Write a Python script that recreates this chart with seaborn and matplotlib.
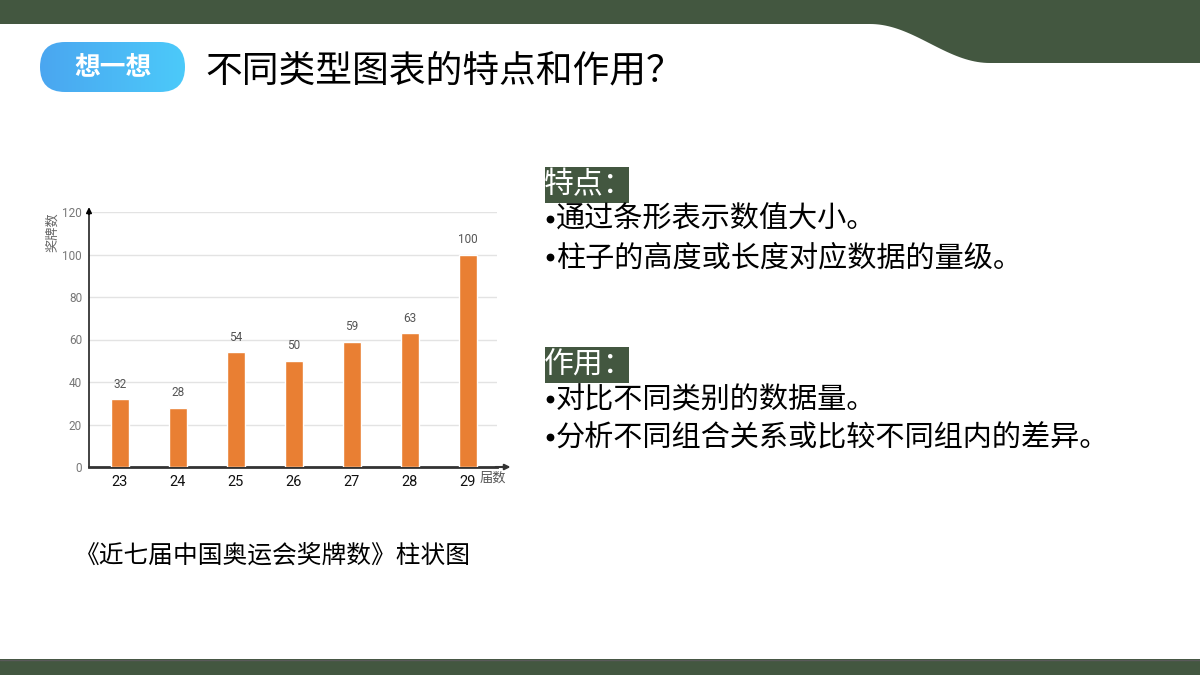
import numpy as np
import matplotlib
matplotlib.use("Agg")
import matplotlib.pyplot as plt
import seaborn as sns
from matplotlib.patches import Polygon, Rectangle, FancyBboxPatch
from matplotlib.colors import LinearSegmentedColormap

sessions = ["23", "24", "25", "26", "27", "28", "29"]
medals = [32, 28, 54, 50, 59, 63, 100]
yticks = [0, 20, 40, 60, 80, 100, 120]
title = "不同类型图表的特点和作用？"
badge = "想一想"
caption = "《近七届中国奥运会奖牌数》柱状图"
head1 = "特点："
lines1 = ["通过条形表示数值大小。", "柱子的高度或长度对应数据的量级。"]
head2 = "作用："
lines2 = ["对比不同类别的数据量。", "分析不同组合关系或比较不同组内的差异。"]

sns.set_theme(style="white")
plt.rcParams['font.family'] = ['Noto Sans CJK SC', 'DejaVu Sans']

GREEN = "#435740"
ORANGE = "#E97F33"

fig = plt.figure(figsize=(12, 6.75), dpi=100)
fig.patch.set_facecolor("white")

bg = fig.add_axes([0, 0, 1, 1], zorder=0)
bg.set_xlim(0, 1200)
bg.set_ylim(675, 0)
bg.axis("off")

# top banner with curve
xs = np.linspace(870, 990, 40)
t = (xs - 870) / 120
ys = 24 + (63 - 24) * (0.5 - 0.5 * np.cos(np.pi * t))
pts = [(0, 0), (1200, 0), (1200, 63)] + list(zip(xs[::-1], ys[::-1])) + [(0, 24)]
bg.add_patch(Polygon(pts, closed=True, facecolor=GREEN, edgecolor="none"))
# bottom band
bg.add_patch(Rectangle((0, 659), 1200, 16, facecolor=GREEN, edgecolor="none"))
bg.plot([0, 1200], [659.5, 659.5], color="#5a5a5a", lw=1)

# pill with gradient
pill = FancyBboxPatch((40, 42), 145, 50, boxstyle="round,pad=0,rounding_size=25",
                      facecolor="none", edgecolor="none")
bg.add_patch(pill)
grad = np.linspace(0, 1, 256).reshape(1, -1)
cmap = LinearSegmentedColormap.from_list("pill", ["#4aa6f0", "#4ccafa"])
im = bg.imshow(grad, extent=(40, 185, 92, 42), cmap=cmap, aspect="auto", zorder=1)
im.set_clip_path(pill)
bg.text(113, 67, badge, color="white", fontsize=18.5, fontweight="bold", ha="center", va="center", zorder=2)

bg.text(205, 71, title, color="black", fontsize=26.5, ha="left", va="center")

bg.text(75, 556, caption, color="black", fontsize=17.8, ha="left", va="center")

def block(y0, head, lines):
    bg.add_patch(Rectangle((545, y0), 84, 36, facecolor=GREEN, edgecolor="none"))
    bg.text(544, y0 + 18, head, color="white", fontsize=21.5, ha="left", va="center")
    for i, ln in enumerate(lines):
        yy = y0 + 53 + i * 38
        bg.plot([550], [yy - 1], marker="o", markersize=4.6, color="black", linestyle="none")
        bg.text(556, yy, ln, color="black", fontsize=21, ha="left", va="center")

block(167, head1, lines1)
block(347, head2, lines2)

# chart
ax = fig.add_axes([89 / 1200, 1 - 467 / 675, (497 - 89) / 1200, (467 - 212) / 675], zorder=2)
ax.patch.set_alpha(0)
sns.barplot(x=sessions, y=medals, color=ORANGE, width=0.31, ax=ax, saturation=1, zorder=3)
ax.set_xlim(-0.53, 6.5)
ax.set_ylim(0, 120)
ax.set_yticks(yticks)
ax.yaxis.grid(True, color="#e3e3e3", lw=1)
ax.set_axisbelow(True)
for s in ["top", "right"]:
    ax.spines[s].set_visible(False)
ax.spines["left"].set_color("#222222")
ax.spines["left"].set_linewidth(1.2)
ax.spines["bottom"].set_color("#333333")
ax.spines["bottom"].set_linewidth(2)
ax.tick_params(axis="y", labelsize=8.5, labelcolor="#777777", length=0, pad=5)
ax.tick_params(axis="x", labelsize=10.5, labelcolor="#111111", length=0, pad=6)
for lbl in ax.get_yticklabels() + ax.get_xticklabels():
    lbl.set_family("Roboto")
ax.set_xlabel("")
ax.set_ylabel("")
for i, v in enumerate(medals):
    ax.text(i, v + 4, str(v), ha="center", va="bottom", fontsize=8.5, color="#555555", family="Roboto")

ax.annotate("", xy=(0, 1.03), xytext=(0, 0.98), xycoords="axes fraction",
            arrowprops=dict(arrowstyle="-|>", color="black", lw=1.2, mutation_scale=8),
            annotation_clip=False)
ax.annotate("", xy=(1.04, 0), xytext=(0.99, 0), xycoords="axes fraction",
            arrowprops=dict(arrowstyle="-|>", color="#333333", lw=1.5, mutation_scale=8),
            annotation_clip=False)
bg.text(53, 232, "奖牌数", rotation=90, fontsize=9.5, color="#666666", ha="center", va="center")
bg.text(493, 478, "届数", fontsize=9.5, color="#555555", ha="center", va="center")

fig.savefig("out.png", dpi=100, facecolor="white")
